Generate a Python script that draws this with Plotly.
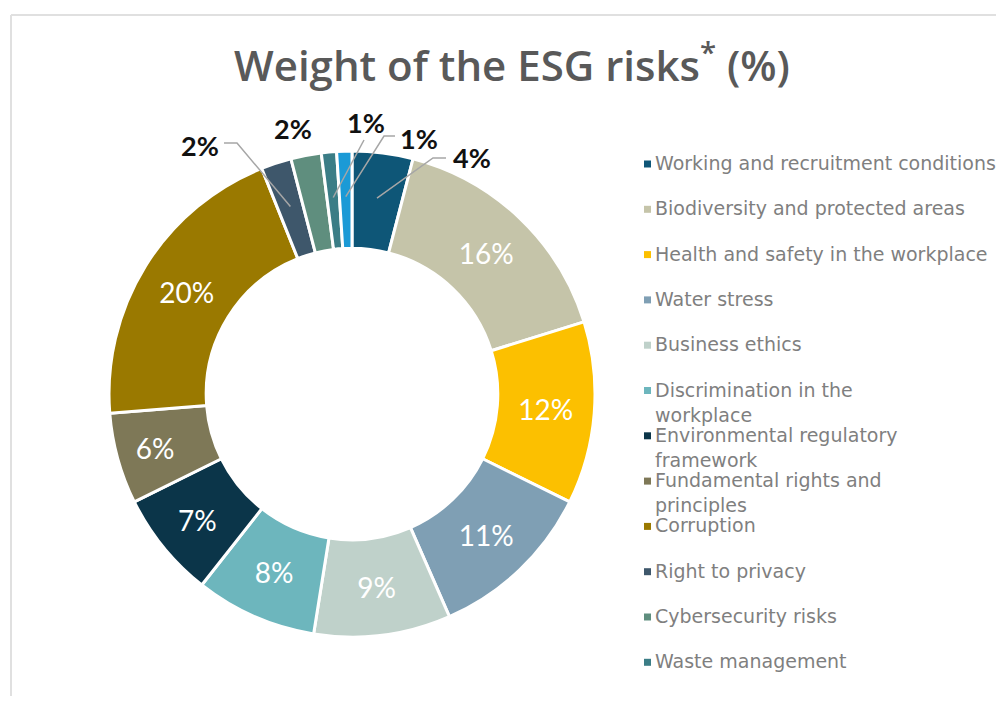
import math
import plotly.graph_objects as go

# ---------------- data ----------------
labels = [
    "Working and recruitment conditions",
    "Biodiversity and protected areas",
    "Health and safety in the workplace",
    "Water stress",
    "Business ethics",
    "Discrimination in the workplace",
    "Environmental regulatory framework",
    "Fundamental rights and principles",
    "Corruption",
    "Right to privacy",
    "Cybersecurity risks",
    "Waste management",
    "Other",
]
values = [4, 16, 12, 11, 9, 8, 7, 6, 20, 2, 2, 1, 1]
legend_text = [
    "Working and recruitment conditions",
    "Biodiversity and protected areas",
    "Health and safety in the workplace",
    "Water stress",
    "Business ethics",
    "Discrimination in the<br>workplace",
    "Environmental regulatory<br>framework",
    "Fundamental rights and<br>principles",
    "Corruption",
    "Right to privacy",
    "Cybersecurity risks",
    "Waste management",
]
colors = [
    "#0e5677", "#c5c4a9", "#fcc000", "#7f9fb4", "#bfd1ca", "#6db6bd",
    "#0b3549", "#7e7857", "#9a7900", "#3e576b", "#5f8e7e", "#3b7d86", "#1b9ad6",
]
title_text = "Weight of the ESG risks<sup>*</sup> (%)"

# ---------------- geometry ----------------
PAGE_W, PAGE_H = 1004, 704
OFF = 8  # default page body margin
W, H = PAGE_W - 2 * OFF, PAGE_H - 2 * OFF
CX, CY, R = 352, 394, 243
HOLE = 0.6


def px(x):
    return (x - OFF) / W


def py(y):
    return 1 - (y - OFF) / H


total = sum(values)
pct_text = [f"{v}%" for v in values]
text_pos = ["inside" if v >= 5 else "none" for v in values]

fig = go.Figure()
fig.add_trace(go.Pie(
    labels=labels,
    values=values,
    text=pct_text,
    textinfo="text",
    textposition=text_pos,
    insidetextorientation="horizontal",
    textfont=dict(family="Lato", size=28, color="white"),
    marker=dict(colors=colors, line=dict(color="white", width=3)),
    hole=HOLE,
    sort=False,
    direction="clockwise",
    rotation=0,
    showlegend=False,
    hoverinfo="label+percent",
    domain=dict(x=[px(CX - R), px(CX + R)], y=[py(CY + R), py(CY - R)]),
))

shapes = []
annotations = []

# frame lines
shapes.append(dict(type="line", xref="paper", yref="paper", x0=px(11), x1=1, y0=py(15), y1=py(15),
                   line=dict(color="#e0e0e0", width=2)))
shapes.append(dict(type="line", xref="paper", yref="paper", x0=px(11), x1=px(11), y0=py(15), y1=0,
                   line=dict(color="#e0e0e0", width=2)))

# callouts for small slices: label centre and optional elbow (pixels)
callouts = {
    0: ((472, 158), [(433, 158), (446, 158)]),
    9: ((200, 145), [(237, 143), (224, 143)]),
    10: ((293, 129), None),
    11: ((366, 123), [(364, 140)]),
    12: ((419, 138), [(384, 136), (395, 136)]),
}
r_tip = R * (1 + HOLE) / 2 + 3
cum = 0
mids = []
for v in values:
    mids.append((cum + v / 2) / total * 2 * math.pi)
    cum += v
for idx, (lab, path) in callouts.items():
    a = mids[idx]
    tx = CX + r_tip * math.sin(a)
    ty = CY - r_tip * math.cos(a)
    if path:
        pts = [(tx, ty)] + path
        d = "M " + " L ".join(f"{px(x):.5f},{py(y):.5f}" for x, y in pts)
        shapes.append(dict(type="path", xref="paper", yref="paper", path=d,
                           line=dict(color="#a6a6a6", width=1.5)))
    annotations.append(dict(x=px(lab[0]), y=py(lab[1]), xref="paper", yref="paper",
                            text=f"<b>{values[idx]}%</b>", showarrow=False,
                            font=dict(family="Lato", size=27, color="#111111"),
                            xanchor="center", yanchor="middle"))

# legend (drawn manually)
LX, LY0, LSTEP = 653, 163, 45.3
for i, t in enumerate(legend_text):
    yc = LY0 + LSTEP * i
    shapes.append(dict(type="rect", xref="paper", yref="paper",
                       x0=px(644), x1=px(651), y0=py(yc + 4.5), y1=py(yc - 2.5),
                       fillcolor=colors[i], line=dict(width=0)))
    annotations.append(dict(x=px(LX), y=py(yc - 13), xref="paper", yref="paper",
                            text=t, showarrow=False, align="left",
                            font=dict(family="DejaVu Sans", size=19, color="#7f7f7f"),
                            xanchor="left", yanchor="top"))

# title
annotations.append(dict(x=px(512), y=py(62), xref="paper", yref="paper",
                        text=title_text, showarrow=False,
                        font=dict(family="Open Sans", size=42, color="#595959", weight=600),
                        xanchor="center", yanchor="middle"))

fig.update_layout(
    width=W, height=H,
    margin=dict(l=0, r=0, t=0, b=0),
    paper_bgcolor="white",
    plot_bgcolor="white",
    shapes=shapes,
    annotations=annotations,
)

fig.write_html("out.html")
